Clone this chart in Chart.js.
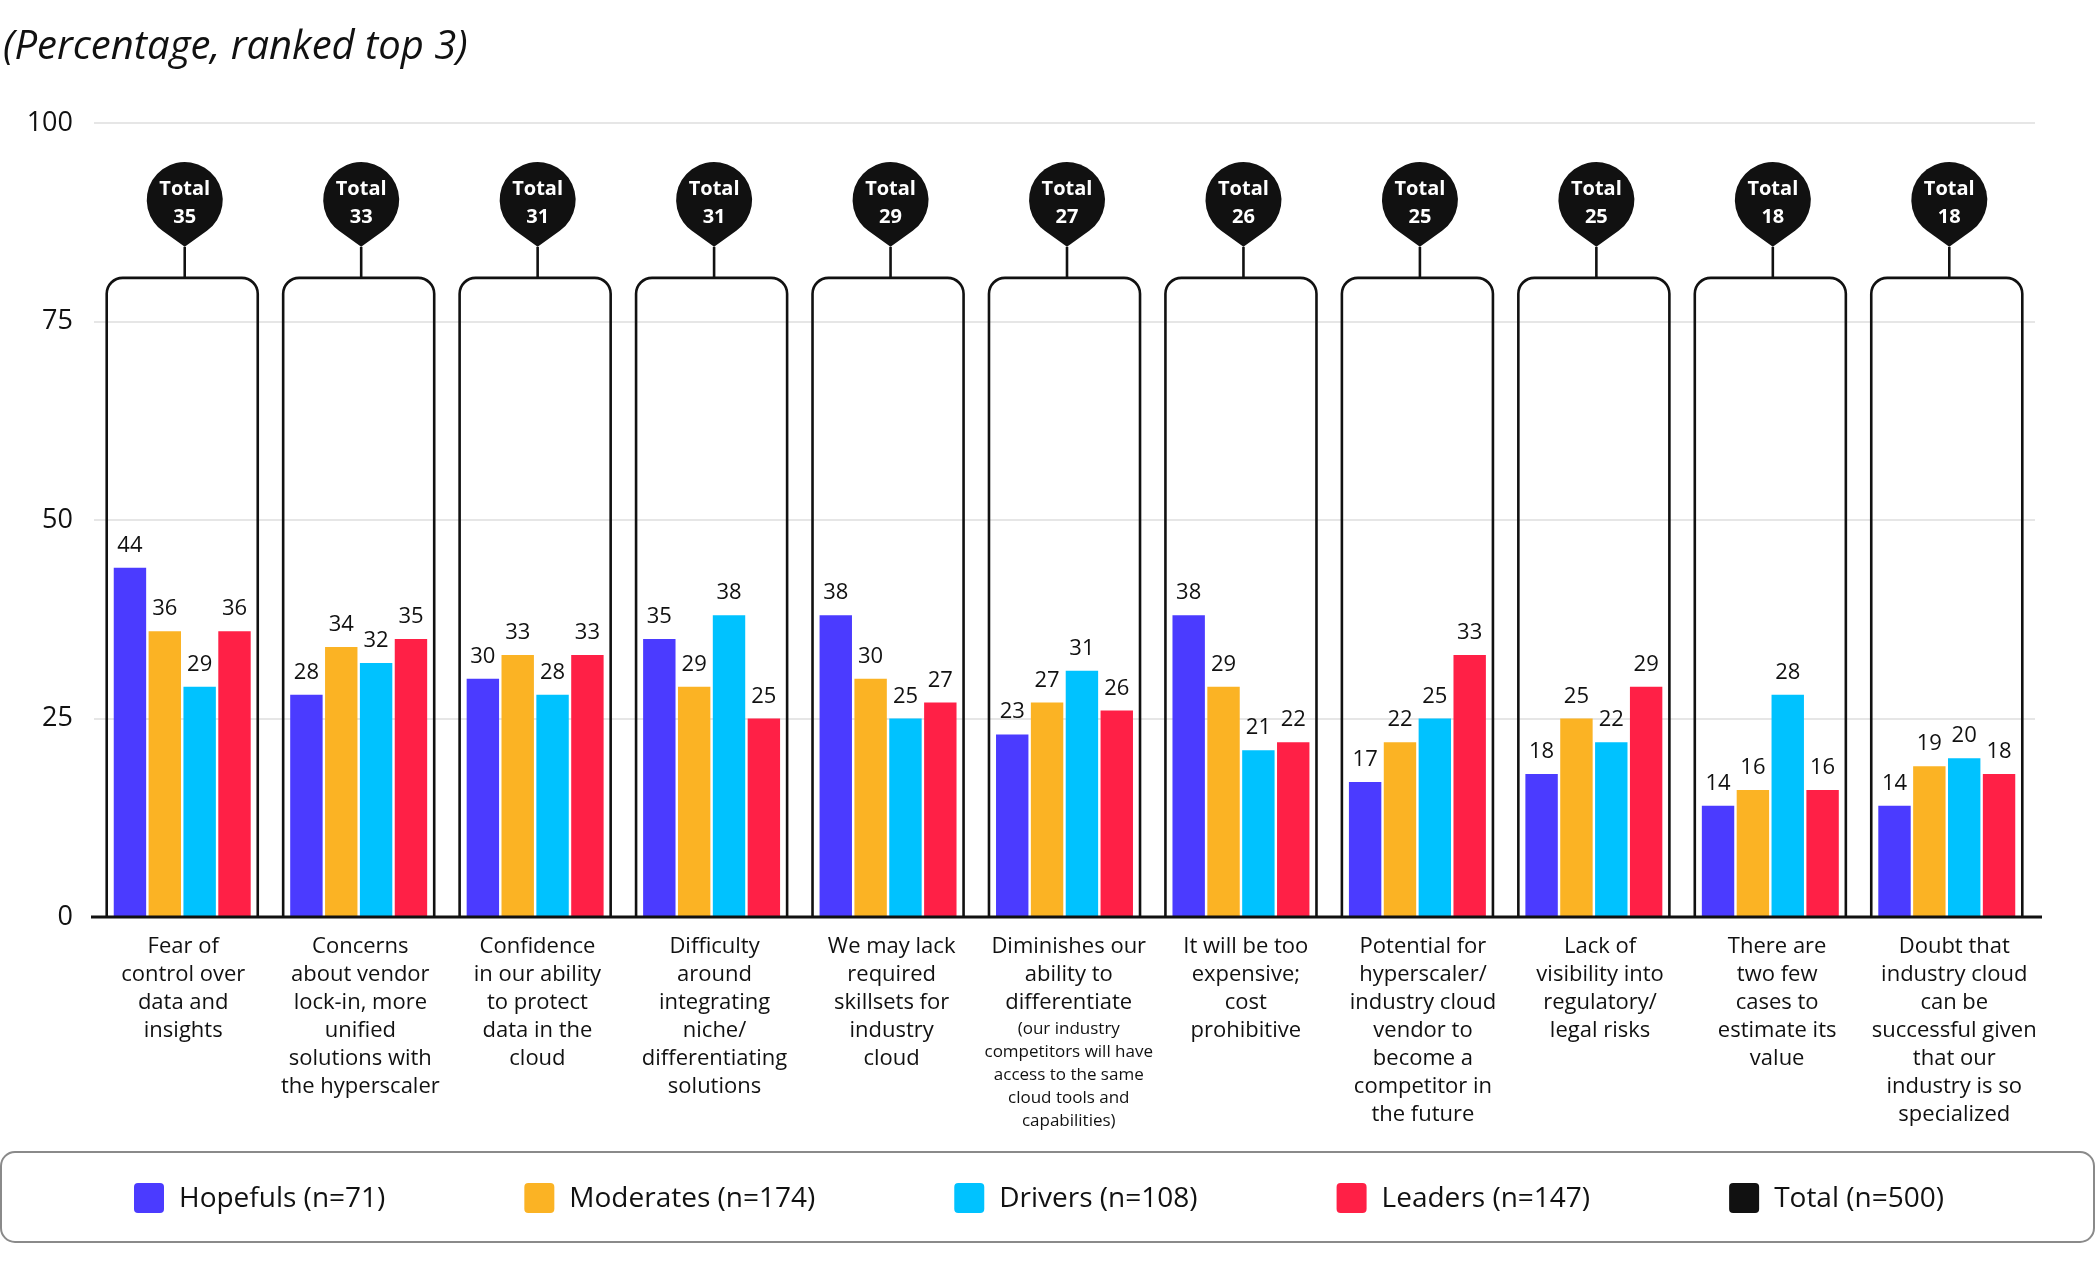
<!DOCTYPE html>
<html><head><meta charset="utf-8">
<script src="https://cdn.jsdelivr.net/npm/chart.js@4.4.1/dist/chart.umd.min.js"></script>
<style>html,body{margin:0;padding:0;background:#fff;}#wrap{width:2096px;height:1271px;position:relative;}</style>
</head><body><div id="wrap"><canvas id="c" width="2096" height="1271"></canvas></div>
<script>
const categories = [
  ['Fear of','control over','data and','insights'],
  ['Concerns','about vendor','lock-in, more','unified','solutions with','the hyperscaler'],
  ['Confidence','in our ability','to protect','data in the','cloud'],
  ['Difficulty','around','integrating','niche/','differentiating','solutions'],
  ['We may lack','required','skillsets for','industry','cloud'],
  ['Diminishes our','ability to','differentiate'],
  ['It will be too','expensive;','cost','prohibitive'],
  ['Potential for','hyperscaler/','industry cloud','vendor to','become a','competitor in','the future'],
  ['Lack of','visibility into','regulatory/','legal risks'],
  ['There are','two few','cases to','estimate its','value'],
  ['Doubt that','industry cloud','can be','successful given','that our','industry is so','specialized']
];
const categoryNotes = [[],[],[],[],[],['(our industry','competitors will have','access to the same','cloud tools and','capabilities)'],[],[],[],[],[]];
const hopefuls  = [44,28,30,35,38,23,38,17,18,14,14];
const moderates = [36,34,33,29,30,27,29,22,25,16,19];
const drivers   = [29,32,28,38,25,31,21,25,22,28,20];
const leaders   = [36,35,33,25,27,26,22,33,29,16,18];
const totals    = [35,33,31,31,29,27,26,25,25,18,18];
const yTicks = [0,25,50,75,100];
const seriesNames = ['Hopefuls (n=71)','Moderates (n=174)','Drivers (n=108)','Leaders (n=147)'];
const totalName = 'Total (n=500)';
const titleText = '(Percentage, ranked top 3)';

const FONT = '"Open Sans", "Noto Sans", sans-serif';
const colors = ['#4B3BFF','#FBB324','#00C2FF','#FF2046'];
const totalColor = '#111111';
const ink = '#111111';

function rr(ctx,x,y,w,h,r){
  ctx.beginPath();
  ctx.moveTo(x+r,y);ctx.lineTo(x+w-r,y);ctx.arcTo(x+w,y,x+w,y+r,r);
  ctx.lineTo(x+w,y+h-r);ctx.arcTo(x+w,y+h,x+w-r,y+h,r);
  ctx.lineTo(x+r,y+h);ctx.arcTo(x,y+h,x,y+h-r,r);
  ctx.lineTo(x,y+r);ctx.arcTo(x,y,x+r,y,r);ctx.closePath();
}

const decor = {
  id:'decor',
  beforeDatasetsDraw(chart){
    const ctx=chart.ctx, xs=chart.scales.x, ys=chart.scales.y, ca=chart.chartArea;
    const cw = xs.getPixelForValue(1)-xs.getPixelForValue(0);
    ctx.save();
    const boxTop = ys.getPixelForValue(80.5);
    const tipY = ys.getPixelForValue(84.4);
    const pinCY = ys.getPixelForValue(90.3);
    const bw = cw*0.856, r=16;
    categories.forEach((c,i)=>{
      const cx = xs.getPixelForValue(i);
      const l = cx-bw/2, rgt = cx+bw/2, b = ca.bottom;
      ctx.beginPath();
      ctx.moveTo(l,b);ctx.lineTo(l,boxTop+r);ctx.arcTo(l,boxTop,l+r,boxTop,r);
      ctx.lineTo(rgt-r,boxTop);ctx.arcTo(rgt,boxTop,rgt,boxTop+r,r);ctx.lineTo(rgt,b);
      ctx.strokeStyle=ink;ctx.lineWidth=2.6;ctx.stroke();
      const px = cx+2.5;
      ctx.beginPath();ctx.moveTo(px,boxTop);ctx.lineTo(px,tipY);ctx.stroke();
      const rad=38, d=tipY-pinCY, th=Math.acos(rad/d);
      ctx.beginPath();
      ctx.moveTo(px,tipY);
      ctx.lineTo(px+rad*Math.sin(th),pinCY+rad*Math.cos(th));
      ctx.arc(px,pinCY,rad,Math.PI/2-th,Math.PI/2+th,true);
      ctx.closePath();
      ctx.fillStyle=totalColor;ctx.fill();
      ctx.fillStyle='#fff';ctx.textAlign='center';ctx.textBaseline='middle';
      ctx.font='bold 20px '+FONT;
      ctx.fillText('Total',px,pinCY-11);
      ctx.fillText(String(totals[i]),px,pinCY+17);
    });
    ctx.restore();
  },
  afterDatasetsDraw(chart){
    const ctx=chart.ctx, xs=chart.scales.x, ys=chart.scales.y, ca=chart.chartArea;
    ctx.save();
    ctx.beginPath();ctx.moveTo(ca.left-3,ca.bottom);ctx.lineTo(ca.right+7,ca.bottom);
    ctx.strokeStyle=ink;ctx.lineWidth=3;ctx.stroke();
    ctx.fillStyle=ink;ctx.textAlign='center';ctx.textBaseline='alphabetic';
    ctx.font='22px '+FONT;
    chart.data.datasets.forEach((ds,di)=>{
      chart.getDatasetMeta(di).data.forEach((el,j)=>{
        ctx.fillText(String(ds.data[j]),el.x,el.y-16);
      });
    });
    ctx.textBaseline='middle';
    categories.forEach((lines,i)=>{
      const cx = xs.getPixelForValue(i)+1+i*0.65;
      let y = ca.bottom+30;
      ctx.font='22px '+FONT;
      lines.forEach((t,k)=>{ctx.fillText(t,cx,y+k*28);});
      let ny = y+(lines.length-1)*28+26;
      ctx.font='17px '+FONT;
      categoryNotes[i].forEach((t,k)=>{ctx.fillText(t,cx,ny+k*23);});
    });
    rr(ctx,1,1152,2093,90,14);
    ctx.strokeStyle='#8a8a8a';ctx.lineWidth=2;ctx.stroke();
    const names = seriesNames.concat([totalName]);
    const cols = colors.concat([totalColor]);
    ctx.font='28px '+FONT;ctx.textAlign='left';
    const widths = names.map(n=>ctx.measureText(n).width);
    const gap=139, sw=30, tx=45;
    let total = widths.reduce((a,w)=>a+tx+w,0)+gap*(names.length-1);
    let x = 1039-total/2;
    names.forEach((n,k)=>{
      rr(ctx,x,1183,sw,sw,4);ctx.fillStyle=cols[k];ctx.fill();
      ctx.fillStyle=ink;ctx.fillText(n,x+tx,1199);
      x += tx+widths[k]+gap;
    });
    ctx.restore();
  }
};

const chart = new Chart(document.getElementById('c'),{
  type:'bar',
  data:{
    labels:categories.map(c=>c.join(' ')),
    datasets:[hopefuls,moderates,drivers,leaders].map((d,i)=>({
      label:seriesNames[i],data:d,backgroundColor:colors[i],
      categoryPercentage:0.79,barPercentage:0.93,borderWidth:0
    }))
  },
  options:{
    responsive:false,animation:false,devicePixelRatio:1,
    layout:{padding:{left:3,right:61,top:0,bottom:354}},
    plugins:{
      legend:{display:false},tooltip:{enabled:false},
      title:{display:true,text:titleText,align:'start',color:ink,
        font:{family:FONT,size:40,style:'italic',weight:'normal',lineHeight:1.2},
        padding:{top:24,bottom:51}}
    },
    scales:{
      x:{display:false},
      y:{min:0,max:100,
        afterBuildTicks:s=>{s.ticks=yTicks.map(v=>({value:v}));},
        afterFit:s=>{s.width=91;},
        border:{display:false},
        grid:{color:'#e6e6e6',lineWidth:2,drawTicks:false},
        ticks:{padding:21,color:ink,font:{family:FONT,size:27}}
      }
    }
  },
  plugins:[decor]
});
</script></body></html>
